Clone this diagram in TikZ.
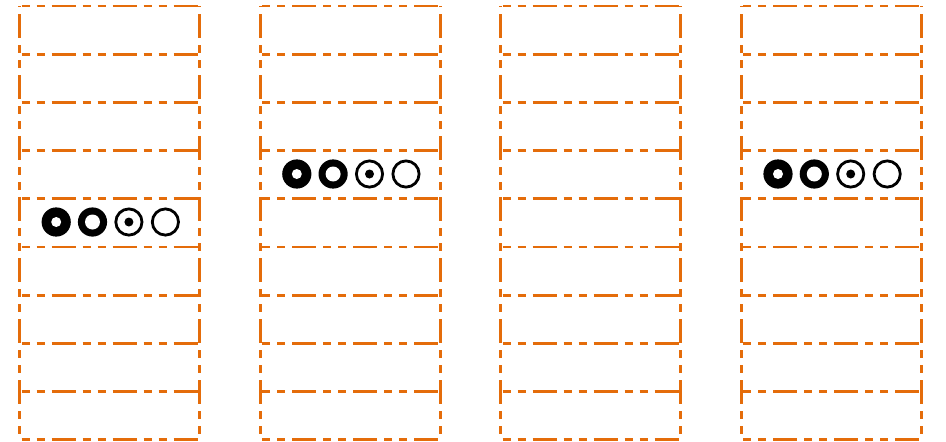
\documentclass[tikz,border=0pt]{standalone}
\definecolor{cellorange}{RGB}{228,108,10}
\tikzset{
  cellline/.style={draw=cellorange, line width=2.8pt,
    dash pattern=on 24pt off 7pt on 8pt off 7pt on 8pt off 7pt},
  hline/.style={cellline, dash phase=29pt},
  vline/.style={cellline, dash phase=53pt},
  ringA/.style={fill=black},
  holeA/.style={fill=white},
  ringC/.style={draw=black, line width=2.8pt}
}
\begin{document}
\begin{tikzpicture}[x=1pt,y=-1pt]
\useasboundingbox (0,0) rectangle (946,442);
\foreach \c in {0,1,2,3}{
  \pgfmathsetmacro{\xl}{19.5+240.6*\c}
  \foreach \r in {0,...,9}{
    \pgfmathsetmacro{\yt}{6+48.2*\r}
    \draw[hline] (\xl,\yt) -- (\xl+180,\yt);
  }
  \draw[vline] (\xl,6) -- (\xl,439.8);
  \draw[vline] (\xl+180,6) -- (\xl+180,439.8);
}
% symbol groups
\foreach \xl/\yc in {19.5/222, 260.1/174, 741.3/174}{
  \fill[ringA] (\xl+36.7,\yc) circle (14.6);
  \fill[holeA] (\xl+36.7,\yc) circle (5);
  \fill[ringA] (\xl+73,\yc) circle (14.6);
  \fill[holeA] (\xl+73,\yc) circle (7.5);
  \draw[ringC] (\xl+109.4,\yc) circle (13.1);
  \fill[black] (\xl+109.4,\yc) circle (4.5);
  \draw[ringC] (\xl+145.9,\yc) circle (13.1);
}
\end{tikzpicture}
\end{document}
